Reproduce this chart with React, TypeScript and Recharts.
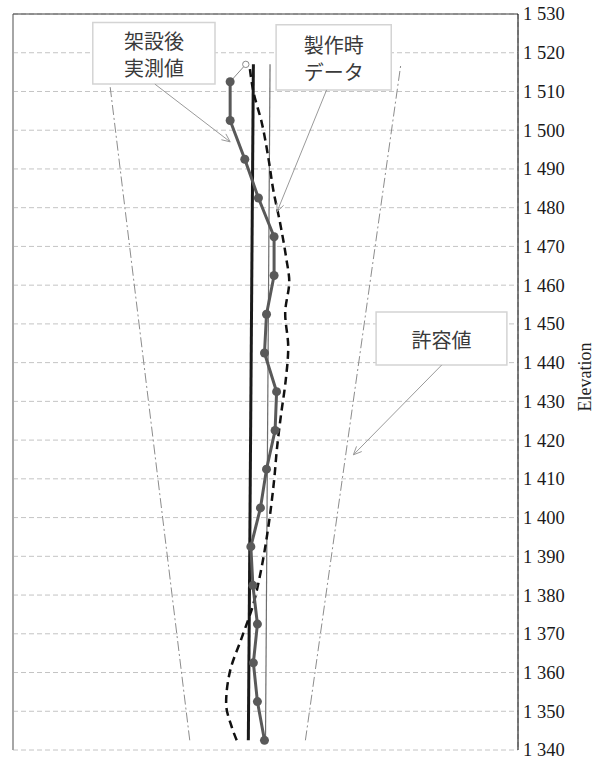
import {
  CartesianGrid,
  ReferenceArea,
  ReferenceLine,
  Scatter,
  ScatterChart,
  XAxis,
  YAxis,
} from 'recharts';

const GRID_COLOR = '#c4c4c4';
const SERIF = '"Liberation Serif", "Times New Roman", serif';
const JP_FONT = '"Noto Sans CJK JP", "Noto Sans", sans-serif';

// Elevation ticks on the right axis
const elevationTicks = [
  1340, 1350, 1360, 1370, 1380, 1390, 1400, 1410, 1420, 1430,
  1440, 1450, 1460, 1470, 1480, 1490, 1500, 1510, 1520, 1530,
];
const deviationTicks = [-50, -30, -10, 10, 30, 50];

// 架設後実測値 (measured after erection)
const measuredElev = [
  1342.5, 1352.5, 1362.5, 1372.5, 1382.5, 1392.5, 1402.5, 1412.5, 1422.5,
  1432.5, 1442.5, 1452.5, 1462.5, 1472.5, 1482.5, 1492.5, 1502.5, 1512.5,
];
const measuredDev = [
  -0.2, -1.6, -2.4, -1.6, -2.5, -2.9, -1.0, 0.2, 1.9,
  2.2, -0.2, 0.2, 1.7, 1.7, -1.4, -4.1, -7.0, -7.0,
];
// top point (open marker) joined by a thin line
const topElev = [1512.5, 1517];
const topDev = [-7.0, -3.9];

// 製作時データ (fabrication data)
const fabElev = [
  1342.5, 1346, 1352, 1360.5, 1369, 1377.7, 1386.3, 1397.5, 1409.6, 1418.2,
  1426.8, 1435.4, 1444, 1452.7, 1461, 1467, 1476, 1484.5, 1493, 1502, 1510, 1517,
];
const fabDev = [
  -5.7, -6.7, -7.8, -7.0, -4.7, -2.4, -0.9, 0.55, 1.7, 2.3,
  3.1, 4.0, 4.5, 3.9, 4.7, 4.1, 2.9, 1.55, 0.55, -0.75, -2.4, -3.2,
];

// straight reference lines
const axisElev = [1342.5, 1517];
const thickDev = [-3.4, -2.4];
const thinDev = [0.0, 0.9];
const tolLeftDev = [-15.0, -31.3];
const tolRightDev = [7.9, 26.8];

// annotation boxes and arrows
const boxLines = [['架設後', '実測値'], ['製作時', 'データ'], ['許容値']];
const boxX = [[-34.2, -10.0], [2.1, 24.9], [21.9, 47.8]];
const boxY = [[1511.9, 1527.8], [1510.4, 1527.2], [1439.4, 1453.1]];
const arrowFrom = [[-21.9, 1511.9], [12.1, 1510.4], [34.9, 1439.4]];
const arrowTo = [[-7.0, 1497.0], [2.3, 1479.0], [17.4, 1416.2]];

const toPoints = (devs: number[], elevs: number[]) =>
  devs.map((x, i) => ({ x, y: elevs[i] }));

const fmtElev = (v: number) => `${Math.floor(v / 1000)} ${String(v % 1000).padStart(3, '0')}`;

const NoDot = () => <g />;

const MeasuredDot = (p: any) => <circle cx={p.cx} cy={p.cy} r={4.5} fill="#595959" />;

const OpenDot = (p: any) =>
  p.payload && p.payload.y > 1515 ? (
    <circle cx={p.cx} cy={p.cy} r={3.2} fill="#fff" stroke="#8a8a8a" strokeWidth={1} />
  ) : (
    <g />
  );

const ElevTick = (p: any) => (
  <text
    x={p.x}
    y={p.y}
    dy="0.35em"
    textAnchor="start"
    fontFamily={SERIF}
    fontSize={18.5}
    fill="#1a1a1a"
  >
    {fmtElev(p.payload.value)}
  </text>
);

const BoxText = (props: any) => {
  const { viewBox, lines } = props;
  if (!viewBox) return null;
  const cx = viewBox.x + viewBox.width / 2;
  const cy = viewBox.y + viewBox.height / 2;
  const lh = 27;
  return (
    <g>
      {lines.map((t: string, i: number) => (
        <text
          key={t}
          x={cx}
          y={cy + (i - (lines.length - 1) / 2) * lh + 1}
          textAnchor="middle"
          dominantBaseline="central"
          fontFamily={JP_FONT}
          fontSize={20}
          fill="#3a3a3a"
        >
          {t}
        </text>
      ))}
    </g>
  );
};

const Arrow = (p: any) => {
  const { x1, y1, x2, y2 } = p;
  const ang = Math.atan2(y2 - y1, x2 - x1);
  const len = 9;
  const spread = 0.42;
  const a1 = ang + Math.PI - spread;
  const a2 = ang + Math.PI + spread;
  return (
    <g stroke="#9a9a9a" strokeWidth={1} fill="none">
      <line x1={x1} y1={y1} x2={x2} y2={y2} />
      <polyline
        points={`${x2 + len * Math.cos(a1)},${y2 + len * Math.sin(a1)} ${x2},${y2} ${x2 + len * Math.cos(a2)},${y2 + len * Math.sin(a2)}`}
      />
    </g>
  );
};

export default function App() {
  return (
    <div style={{ position: 'absolute', left: 0, top: 0, background: '#fff' }}>
      <ScatterChart
        width={598}
        height={759}
        margin={{ top: 14, right: 0, bottom: 9, left: 13 }}
        style={{ fontFamily: SERIF }}
      >
        <CartesianGrid stroke={GRID_COLOR} strokeDasharray="5 3" />
        <XAxis
          type="number"
          dataKey="x"
          domain={[-50, 50]}
          ticks={deviationTicks}
          tick={false}
          tickLine={false}
          axisLine={{ stroke: '#a6a6a6', strokeWidth: 2 }}
          height={0}
        />
        <YAxis
          type="number"
          dataKey="y"
          orientation="right"
          domain={[1340, 1530]}
          ticks={elevationTicks}
          interval={0}
          width={80}
          tick={<ElevTick />}
          tickLine={false}
          tickSize={0}
          tickMargin={5}
          axisLine={{ stroke: '#000', strokeWidth: 1 }}
          label={{
            value: 'Elevation',
            angle: -90,
            position: 'center',
            dx: 27,
            dy: -5,
            style: { fontSize: 18, fill: '#1f1f1f', fontFamily: SERIF },
          }}
        />
        <ReferenceLine x={-50} stroke="#a6a6a6" strokeWidth={2} />
        <ReferenceLine y={1530} stroke="#3a3a3a" strokeWidth={1} />

        <Scatter
          data={toPoints(tolLeftDev, axisElev)}
          line={{ stroke: '#8c8c8c', strokeWidth: 1, strokeDasharray: '10 3 2 3' }}
          shape={NoDot}
          isAnimationActive={false}
        />
        <Scatter
          data={toPoints(tolRightDev, axisElev)}
          line={{ stroke: '#8c8c8c', strokeWidth: 1, strokeDasharray: '10 3 2 3' }}
          shape={NoDot}
          isAnimationActive={false}
        />
        <Scatter
          data={toPoints(thinDev, axisElev)}
          line={{ stroke: '#6e6e6e', strokeWidth: 1.2 }}
          shape={NoDot}
          isAnimationActive={false}
        />
        <Scatter
          data={toPoints(thickDev, axisElev)}
          line={{ stroke: '#1a1a1a', strokeWidth: 3 }}
          shape={NoDot}
          isAnimationActive={false}
        />
        <Scatter
          data={toPoints(fabDev, fabElev)}
          line={{ stroke: '#111', strokeWidth: 2.5, strokeDasharray: '8 5' }}
          lineJointType="monotoneY"
          shape={NoDot}
          isAnimationActive={false}
        />
        <Scatter
          data={toPoints(topDev, topElev)}
          line={{ stroke: '#8a8a8a', strokeWidth: 1 }}
          shape={OpenDot}
          isAnimationActive={false}
        />
        <Scatter
          data={toPoints(measuredDev, measuredElev)}
          line={{ stroke: '#595959', strokeWidth: 3 }}
          shape={MeasuredDot}
          isAnimationActive={false}
        />

        {boxLines.map((lines, i) => (
          <ReferenceArea
            key={`box-${i}`}
            x1={boxX[i][0]}
            x2={boxX[i][1]}
            y1={boxY[i][0]}
            y2={boxY[i][1]}
            fill="#fff"
            fillOpacity={1}
            stroke="#d4d4d4"
            strokeWidth={1.5}
            zIndex={1500}
            label={<BoxText lines={lines} />}
          />
        ))}
        {arrowFrom.map((from, i) => (
          <ReferenceLine
            key={`arrow-${i}`}
            segment={[
              { x: from[0], y: from[1] },
              { x: arrowTo[i][0], y: arrowTo[i][1] },
            ]}
            zIndex={1500}
            shape={(p: any) => <Arrow {...p} />}
          />
        ))}
      </ScatterChart>
    </div>
  );
}
